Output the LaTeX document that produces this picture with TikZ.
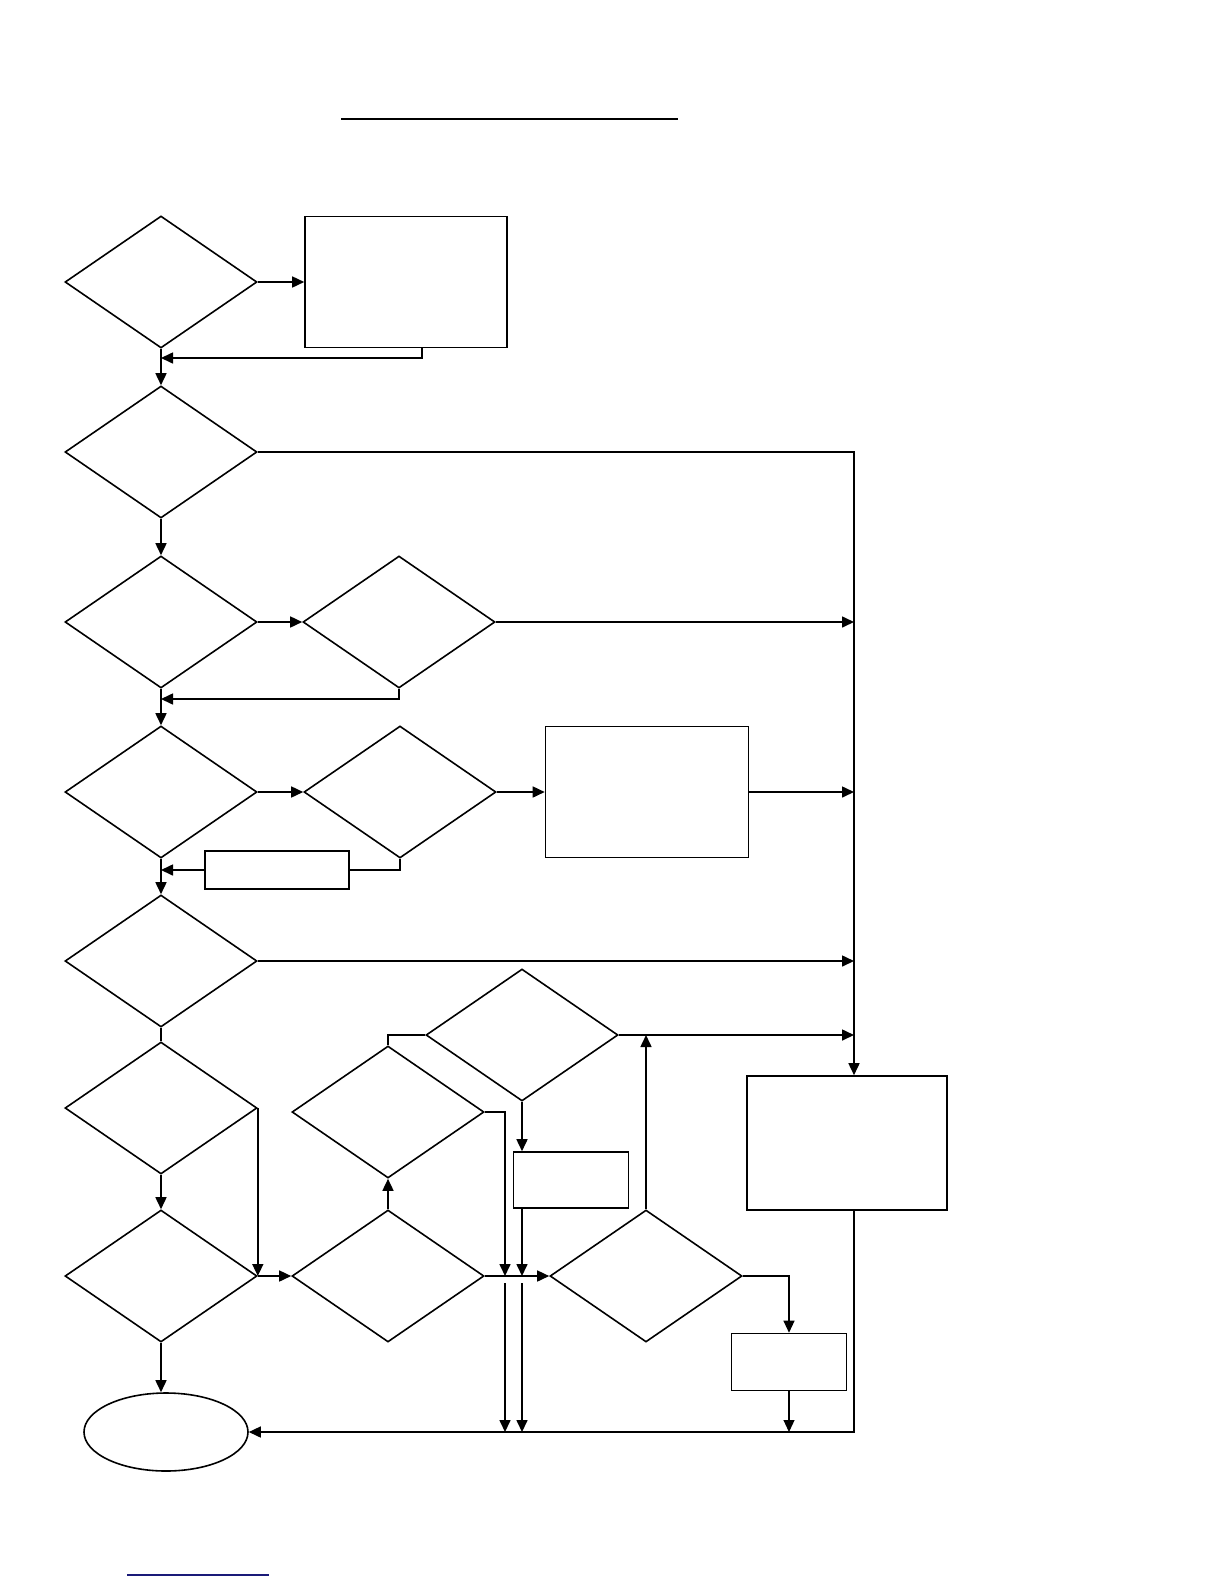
\documentclass[tikz,border=0pt]{standalone}
\usepackage{tikz}
\usetikzlibrary{arrows.meta, positioning, shapes.geometric, calc}
\definecolor{linkBlue}{HTML}{1A1A78}

\begin{document}
\begin{tikzpicture}[
    x=1pt, y=-1pt,
    dec/.style={diamond, draw, line width=1.6pt, inner sep=0pt, minimum width=192pt, minimum height=132pt},
    box/.style={rectangle, draw, line width=1.6pt, inner sep=0pt},
    arr/.style={-{Triangle[length=12pt, width=11pt]}, line width=1.6pt},
    arrthin/.style={-{Triangle[length=12pt, width=11pt]}, line width=1.1pt},
    ln/.style={line width=1.6pt}
]
\useasboundingbox (0,0) rectangle (1224,1584);

% Title rule
\draw[line width=2.5pt] (341,119) -- (678,119);

% Decisions, left column
\node[dec] (d1) at (161,282) {};
\node[dec] (d2) at (161,452) {};
\node[dec] (d3) at (161,622) {};
\node[dec] (d4) at (161,792) {};
\node[dec] (d5) at (161,961) {};
\node[dec] (d6) at (161,1108) {};
\node[dec] (d7) at (161,1276) {};

% Decisions, middle
\node[dec] (d3b) at (399,622) {};
\node[dec] (d4b) at (400,792) {};
\node[dec] (d9) at (388,1112) {};
\node[dec] (d8) at (388,1276) {};
\node[dec] (d10) at (522,1035) {};
\node[dec] (d11) at (646,1276) {};

% Boxes
\node[box, minimum width=202pt, minimum height=131pt] (b1) at (406,282) {};
\node[box, minimum width=144pt, minimum height=38pt] (b2) at (277,870) {};
\node[box, minimum width=203pt, minimum height=131pt] (b3) at (647,792) {};
\node[box, minimum width=115pt, minimum height=56pt] (b4) at (571,1180) {};
\node[box, minimum width=200pt, minimum height=134pt] (b5) at (847,1143) {};
\node[box, minimum width=115pt, minimum height=57pt] (b6) at (789,1362) {};

% End
\node[ellipse, draw, line width=1.6pt, inner sep=0pt, minimum width=164pt, minimum height=78pt] (end) at (166,1432) {};

% Junctions
\coordinate (trunk) at (854,0);
\coordinate (r1) at (161,358);
\coordinate (r2) at (161,699);
\coordinate (m1) at (505,1276);

% Left column
\draw[arr] (d1.east) -- (b1.west);
\draw[arr] ([xshift=16pt]b1.south) |- (r1);
\draw[arr] (d1.south) -- (d2.north);
\draw[arr] (d2.east) -| (trunk |- b5.north);
\draw[arr] (d2.south) -- (d3.north);
\draw[arr] (d3.east) -- (d3b.west);
\draw[arr] (d3b.east) -- (d3b.east -| trunk);
\draw[arr] (d3b.south) |- (r2);
\draw[arr] (d3.south) -- (d4.north);
\draw[arr] (d4.east) -- (d4b.west);
\draw[arr] (d4b.east) -- (b3.west);
\draw[arr] (b3.east) -- (b3.east -| trunk);
\draw[ln] (d4b.south) |- (b2.east);
\draw[arr] (b2.west) -- (b2.west -| d4.south);
\draw[arr] (d4.south) -- (d5.north);
\draw[arr] (d5.east) -- (d5.east -| trunk);
\draw[ln] (d5.south) -- (d6.north);
\draw[arr] (d6.east) -- (d7.east);
\draw[arr] (d6.south) -- (d7.north);
\draw[arr] (d7.east) -- (d8.west);
\draw[arr] (d7.south) -- (d7.south |- end.north);

% Middle
\draw[arr] (d8.north) -- (d9.south);
\draw[ln] (d9.north) |- (d10.west);
\draw[arr] (d9.east) -| (m1);
\draw[arr] (d10.south) -- (d10.south |- b4.north);
\draw[arr] (b4.south -| d10.south) -- (d10.south |- m1);
\draw[arr] (d8.east) -- (d11.west);
\draw[arr] ($(m1)+(0,7)$) -- (m1 |- end.east);
\draw[arr] ($(d10.south |- m1)+(0,7)$) -- (d10.south |- end.east);
\draw[arr] (d11.north) -- (d11.north |- d10.east);
\draw[arr] (d10.east) -- (d10.east -| trunk);

% Right
\draw[arrthin] (d11.east) -| (b6.north);
\draw[arrthin] (b6.south) -- (b6.south |- end.east);
\draw[arr] (b5.south -| trunk) |- (end.east);

% Footer rule
\draw[linkBlue, line width=1.3pt] (127,1575) -- (269,1575);

\end{tikzpicture}
\end{document}
